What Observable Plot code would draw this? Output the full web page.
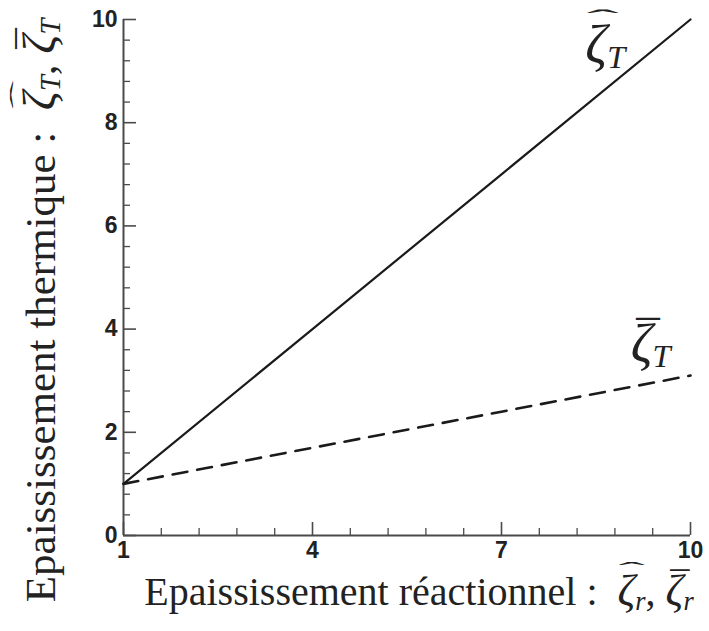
<!DOCTYPE html>
<html><head><meta charset="utf-8">
<script src="https://cdn.jsdelivr.net/npm/d3@7"></script>
<script src="https://cdn.jsdelivr.net/npm/@observablehq/plot@0.6"></script>
<style>
body{margin:0;background:#fff}
</style>
</head><body><div id="chart"></div>
<script>
// ---- data ----
const zetaR = [1, 4, 7, 10];            // réactionnel thickening
const zetaHatT = [1, 4, 7, 10];         // solid line
const zetaBarT = [1, 1.7, 2.4, 3.1];    // dashed line
const xMajorTicks = [1, 4, 7, 10];
const xMinorTicks = [1.6, 2.2, 2.8, 3.4, 4.6, 5.2, 5.8, 6.4, 7.6, 8.2, 8.8, 9.4];
const yMajorTicks = [0, 2, 4, 6, 8, 10];
const yMinorTicks = [0.4, 0.8, 1.2, 1.6, 2.4, 2.8, 3.2, 3.6, 4.4, 4.8, 5.2, 5.6, 6.4, 6.8, 7.2, 7.6, 8.4, 8.8, 9.2, 9.6];
const labelX = [8.33, 9.05];
const labelY = [9.5, 3.7];
const labelText = ["{ζ^}_{T}", "{ζ-}_{T}"];
const xTitle = "Epaississement réactionnel :  {ζ^}_{r}, {ζ-}_{r}";
const yTitle = "Epaississement thermique :  {ζ^}_{T}, {ζ-}_{T}";

const hatData = zetaR.map((x, i) => ({x, y: zetaHatT[i]}));
const barData = zetaR.map((x, i) => ({x, y: zetaBarT[i]}));
const labels = labelX.map((x, i) => ({x, y: labelY[i], t: labelText[i]}));

const serifName = "'Liberation Serif'";
const serif = "'Liberation Serif', 'DejaVu Serif', serif";
const LABEL_FS = 54, XTITLE_FS = 40, YTITLE_FS = 43;

const svg = Plot.plot({
  width: 709, height: 631,
  marginLeft: 123, marginRight: 19, marginTop: 19, marginBottom: 96,
  style: {fontFamily: "'Liberation Sans', Arial, sans-serif", fontSize: "23px", fontWeight: "bold", color: "#222", background: "#fff"},
  x: {domain: [1, 10]},
  y: {domain: [0, 10]},
  marks: [
    Plot.axisX(xMinorTicks, {tickSize: -7, tickFormat: () => "", label: null, stroke: "#4a4a4a", strokeWidth: 1.3}),
    Plot.axisY(yMinorTicks, {tickSize: -7, tickFormat: () => "", label: null, stroke: "#4a4a4a", strokeWidth: 1.3}),
    Plot.axisX(xMajorTicks, {tickSize: -13, tickPadding: 19, tickFormat: d => String(d), label: null, stroke: "#4a4a4a", strokeWidth: 1.6, fill: "#222"}),
    Plot.axisY(yMajorTicks, {tickSize: -13, tickPadding: 19, tickFormat: d => String(d), label: null, stroke: "#4a4a4a", strokeWidth: 1.6, fill: "#222"}),
    Plot.ruleX([1], {stroke: "#4a4a4a", strokeWidth: 2}),
    Plot.ruleY([0], {stroke: "#4a4a4a", strokeWidth: 2}),
    Plot.line(hatData, {x: "x", y: "y", stroke: "#1a1a1a", strokeWidth: 2.2}),
    Plot.line(barData, {x: "x", y: "y", stroke: "#1a1a1a", strokeWidth: 2.6, strokeDasharray: "15,10"}),
    Plot.text(labels, {x: "x", y: "y", text: "t", fontFamily: serif, fontSize: LABEL_FS, fontWeight: "normal", fill: "#222", textAnchor: "start", lineAnchor: "middle"}),
    Plot.text([xTitle], {frameAnchor: "bottom", textAnchor: "middle", lineAnchor: "middle", text: d => d, dx: 12, dy: 57, fontFamily: serif, fontSize: XTITLE_FS, fontWeight: "normal", fill: "#222"}),
    Plot.text([yTitle], {frameAnchor: "left", textAnchor: "middle", lineAnchor: "middle", text: d => d, rotate: -90, dx: -82, dy: 33, fontFamily: serif, fontSize: YTITLE_FS, fontWeight: "normal", fill: "#222"})
  ]
});

// ---- math typesetting: {ζ^} hat, {ζ-} bar, _{x} subscript ----
const ctx = document.createElement("canvas").getContext("2d");
function measure(font, s) { ctx.font = font; return ctx.measureText(s).width; }
const ACC = {
  "^": {ch: "ˆ", size: 0.42, len: 0.6, dy: -0.68},
  "-": {ch: "¯", size: 0.87, len: null, dy: -0.17}
};

d3.select(svg).selectAll("text").each(function() {
  const s = this.textContent;
  if (!s.includes("{")) return;
  const holder = this.closest("[font-size]");
  const F = parseFloat(holder ? holder.getAttribute("font-size") : 34);
  const S = F >= 50 ? F : 1.1 * F;        // size of the math symbol
  const subSize = 0.6 * S;
  const subShift = 0.1 * S;
  const parts = s.split(/(_\{[^}]*\}|\{[^}]*\})/).filter(p => p !== "");
  const el = d3.select(this);
  el.text(null);
  let cur = 0, pendingDx = 0;
  const place = (t, target) => {
    if (Math.abs(target - cur) > 1e-6) { t.attr("dy", target - cur); cur = target; }
    if (pendingDx) { t.attr("dx", pendingDx); pendingDx = 0; }
  };
  for (const p of parts) {
    if (p.startsWith("_{")) {
      const t = el.append("tspan").attr("font-style", "italic").attr("font-size", subSize);
      place(t, subShift); t.text(p.slice(2, -1));
    } else if (p.startsWith("{")) {
      const sym = p.slice(1, -1);
      const base = sym[0], acc = ACC[sym[1]];
      const z = el.append("tspan").attr("font-style", "italic").attr("font-size", S);
      place(z, 0); z.text(base);
      const wz = measure(`italic ${S}px ${serifName}`, base);
      const H = acc.size * S;
      const a = el.append("tspan").attr("font-style", "normal").attr("font-size", H);
      let L = measure(`${H}px ${serifName}`, acc.ch);
      if (acc.len) { L = acc.len * S; a.attr("textLength", L).attr("lengthAdjust", "spacingAndGlyphs"); }
      const skew = 0.12 * S;
      pendingDx = -(wz / 2 + L / 2) + skew;
      place(a, acc.dy * S);
      a.text(acc.ch);
      pendingDx = wz / 2 - L / 2 - skew;
    } else {
      const t = el.append("tspan").attr("font-style", "normal").attr("font-size", F);
      place(t, 0); t.text(p);
    }
  }
});

document.getElementById("chart").appendChild(svg);
</script>
</body></html>
